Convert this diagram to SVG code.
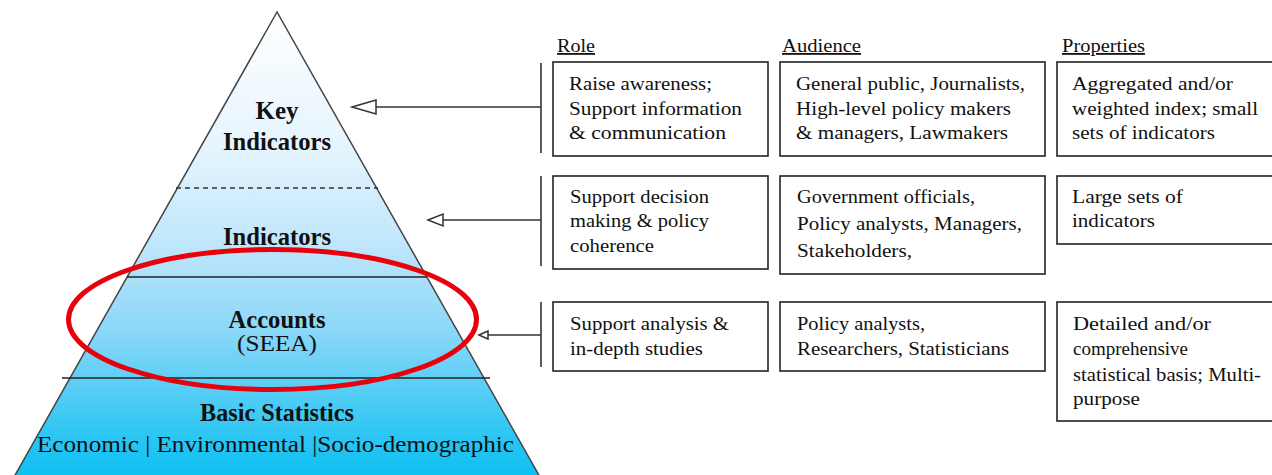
<svg xmlns="http://www.w3.org/2000/svg" width="1272" height="475" viewBox="0 0 1272 475">
<defs>
<linearGradient id="pyr" gradientUnits="userSpaceOnUse" x1="0" y1="12" x2="0" y2="475">
<stop offset="0" stop-color="#ffffff"/>
<stop offset="0.3" stop-color="#e4f4fd"/>
<stop offset="0.5" stop-color="#c0e6fb"/>
<stop offset="0.68" stop-color="#8ed8f8"/>
<stop offset="0.88" stop-color="#3cc8f4"/>
<stop offset="1" stop-color="#0cc0f2"/>
</linearGradient>
</defs>
<style>
.t{font-family:"Liberation Serif","DejaVu Serif",serif;fill:#111;}
.b{font-size:19px;}
.h{font-size:18px;text-decoration:underline;}
.p{font-size:25px;font-weight:bold;}
.box{fill:#fff;stroke:#222;stroke-width:1.6;}
.ln{stroke:#333;stroke-width:1.6;fill:none;}
.ah{fill:#fff;stroke:#333;stroke-width:1.5;}
</style>
<g id="pyramid">
<path d="M277,12 L14,477 L540,477 Z" fill="url(#pyr)" stroke="#444" stroke-width="1.5"/>
<line x1="176" y1="188" x2="378" y2="188" stroke="#333" stroke-width="1.3" stroke-dasharray="5,4"/>
<line x1="127" y1="277" x2="427" y2="277" stroke="#222" stroke-width="1.3"/>
<line x1="62" y1="378" x2="490" y2="378" stroke="#222" stroke-width="1.3"/>
<text class="t p" x="277" y="119" text-anchor="middle">Key</text>
<text class="t p" x="277" y="150" text-anchor="middle" textLength="108" lengthAdjust="spacingAndGlyphs">Indicators</text>
<text class="t p" x="277" y="245" text-anchor="middle" textLength="108" lengthAdjust="spacingAndGlyphs">Indicators</text>
<text class="t p" x="277" y="328" text-anchor="middle" textLength="97" lengthAdjust="spacingAndGlyphs">Accounts</text>
<text class="t" x="277" y="351" text-anchor="middle" font-size="23" textLength="80" lengthAdjust="spacingAndGlyphs">(SEEA)</text>
<text class="t p" x="277" y="421" text-anchor="middle" textLength="154" lengthAdjust="spacingAndGlyphs">Basic Statistics</text>
<text class="t" x="37" y="452" font-size="24" textLength="477" lengthAdjust="spacingAndGlyphs">Economic | Environmental |Socio-demographic</text>
</g>
<g id="highlight">
<ellipse cx="272.5" cy="319.5" rx="204" ry="70" fill="none" stroke="#e8000a" stroke-width="5"/>
</g>
<g id="connectors">
<line class="ln" x1="541" y1="63" x2="541" y2="153"/>
<path class="ln" d="M541,107 L376,107"/>
<path class="ah" d="M352,107 L376,100 L376,114 Z"/>
<line class="ln" x1="541" y1="176" x2="541" y2="266"/>
<path class="ln" d="M541,220 L443,220"/>
<path class="ah" d="M428,220 L443,214 L443,226 Z"/>
<line class="ln" x1="541" y1="302" x2="541" y2="367"/>
<path class="ln" d="M541,335 L487,335"/>
<path class="ah" d="M479,335 L488,331 L488,339 Z" stroke-width="1.3"/>
</g>
<g id="headers">
<text class="t h" x="557" y="52" textLength="38" lengthAdjust="spacingAndGlyphs">Role</text>
<text class="t h" x="782" y="52" textLength="79" lengthAdjust="spacingAndGlyphs">Audience</text>
<text class="t h" x="1062" y="52" textLength="83" lengthAdjust="spacingAndGlyphs">Properties</text>
</g>
<g id="role1">
<rect class="box" x="553" y="62" width="215" height="94"/>
<text class="t b" x="569" y="90" textLength="143" lengthAdjust="spacingAndGlyphs">Raise awareness;</text>
<text class="t b" x="569" y="115" textLength="173" lengthAdjust="spacingAndGlyphs">Support information</text>
<text class="t b" x="569" y="139" textLength="157" lengthAdjust="spacingAndGlyphs">&amp; communication</text>
</g>
<g id="audience1">
<rect class="box" x="780" y="62" width="265" height="94"/>
<text class="t b" x="796" y="90" textLength="229" lengthAdjust="spacingAndGlyphs">General public, Journalists,</text>
<text class="t b" x="796" y="115" textLength="215" lengthAdjust="spacingAndGlyphs">High-level policy makers</text>
<text class="t b" x="796" y="139" textLength="212" lengthAdjust="spacingAndGlyphs">&amp; managers, Lawmakers</text>
</g>
<g id="properties1">
<rect class="box" x="1057" y="62" width="230" height="94"/>
<text class="t b" x="1072" y="90" textLength="161" lengthAdjust="spacingAndGlyphs">Aggregated and/or</text>
<text class="t b" x="1072" y="115" textLength="186" lengthAdjust="spacingAndGlyphs">weighted index; small</text>
<text class="t b" x="1072" y="139" textLength="143" lengthAdjust="spacingAndGlyphs">sets of indicators</text>
</g>
<g id="role2">
<rect class="box" x="553" y="176" width="215" height="93"/>
<text class="t b" x="570" y="203" textLength="139" lengthAdjust="spacingAndGlyphs">Support decision</text>
<text class="t b" x="570" y="227" textLength="139" lengthAdjust="spacingAndGlyphs">making &amp; policy</text>
<text class="t b" x="570" y="252" textLength="84" lengthAdjust="spacingAndGlyphs">coherence</text>
</g>
<g id="audience2">
<rect class="box" x="780" y="176" width="265" height="98"/>
<text class="t b" x="797" y="203" textLength="178" lengthAdjust="spacingAndGlyphs">Government officials,</text>
<text class="t b" x="797" y="230" textLength="225" lengthAdjust="spacingAndGlyphs">Policy analysts, Managers,</text>
<text class="t b" x="797" y="257" textLength="115" lengthAdjust="spacingAndGlyphs">Stakeholders,</text>
</g>
<g id="properties2">
<rect class="box" x="1057" y="176" width="230" height="68"/>
<text class="t b" x="1072" y="203" textLength="111" lengthAdjust="spacingAndGlyphs">Large sets of</text>
<text class="t b" x="1072" y="227" textLength="83" lengthAdjust="spacingAndGlyphs">indicators</text>
</g>
<g id="role3">
<rect class="box" x="553" y="302" width="215" height="69"/>
<text class="t b" x="570" y="330" textLength="159" lengthAdjust="spacingAndGlyphs">Support analysis &amp;</text>
<text class="t b" x="570" y="355" textLength="133" lengthAdjust="spacingAndGlyphs">in-depth studies</text>
</g>
<g id="audience3">
<rect class="box" x="780" y="302" width="265" height="69"/>
<text class="t b" x="797" y="330" textLength="128" lengthAdjust="spacingAndGlyphs">Policy analysts,</text>
<text class="t b" x="797" y="355" textLength="212" lengthAdjust="spacingAndGlyphs">Researchers, Statisticians</text>
</g>
<g id="properties3">
<rect class="box" x="1057" y="302" width="230" height="119"/>
<text class="t b" x="1073" y="330" textLength="138" lengthAdjust="spacingAndGlyphs">Detailed and/or</text>
<text class="t b" x="1073" y="355" textLength="115" lengthAdjust="spacingAndGlyphs">comprehensive</text>
<text class="t b" x="1073" y="381" textLength="188" lengthAdjust="spacingAndGlyphs">statistical basis; Multi-</text>
<text class="t b" x="1073" y="405" textLength="67" lengthAdjust="spacingAndGlyphs">purpose</text>
</g>
</svg>
